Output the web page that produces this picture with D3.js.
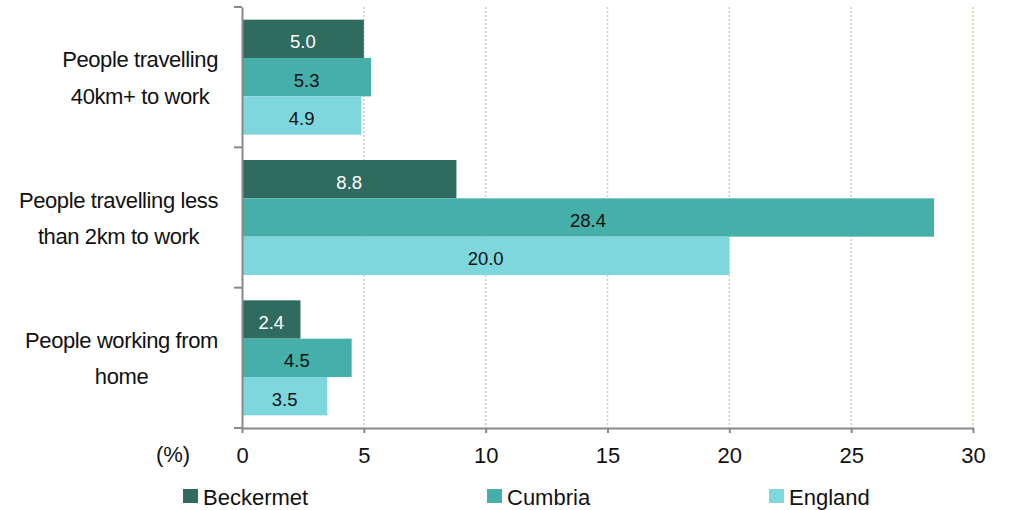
<!DOCTYPE html>
<html><head><meta charset="utf-8">
<script src="https://cdn.jsdelivr.net/npm/d3@7"></script>
<style>
html,body{margin:0;padding:0;background:#fff;}
svg{display:block;font-family:"Liberation Sans",Arial,sans-serif;}
</style></head>
<body>
<svg id="chart" width="1009" height="510"></svg>
<script>
const categories = ["People travelling\n40km+ to work", "People travelling less\nthan 2km to work", "People working from\nhome"];
const seriesNames = ["Beckermet", "Cumbria", "England"];
const beckermet = [5.0, 8.8, 2.4];
const cumbria = [5.3, 28.4, 4.5];
const england = [4.9, 20.0, 3.5];
const xTicks = [0, 5, 10, 15, 20, 25, 30];
const axisUnit = "(%)";

const seriesValues = [beckermet, cumbria, england];
const colors = ["#306b5f", "#47afa9", "#7fd7de"];
const labelColors = ["#ffffff", "#111111", "#111111"];

const svg = d3.select("#chart");
const x = d3.scaleLinear().domain([0, 30]).range([242, 973]);
const y = d3.scaleBand().domain(categories).range([7, 428]).paddingInner(0).paddingOuter(0);
const ys = d3.scaleBand().domain(seriesNames).range([0, y.bandwidth()]).paddingInner(0).paddingOuter(0.33);

// gridlines
svg.append("g").selectAll("line").data(xTicks.filter(d => d > 0)).join("line")
  .attr("x1", d => x(d)).attr("x2", d => x(d))
  .attr("y1", 7).attr("y2", 428)
  .attr("stroke", "#d5cdaa").attr("stroke-width", 1.5).attr("stroke-dasharray", "2,2");

// bars
const rows = [];
categories.forEach((c, i) => seriesNames.forEach((s, j) => rows.push({c, s, j, v: seriesValues[j][i]})));
const g = svg.append("g");
g.selectAll("rect").data(rows).join("rect")
  .attr("x", x(0))
  .attr("y", d => y(d.c) + ys(d.s))
  .attr("width", d => x(d.v) - x(0))
  .attr("height", ys.bandwidth())
  .attr("fill", d => colors[d.j]);
g.selectAll("text").data(rows).join("text")
  .attr("x", d => (x(0) + x(d.v)) / 2)
  .attr("y", d => y(d.c) + ys(d.s) + ys.bandwidth() / 2 + 9.5)
  .attr("text-anchor", "middle")
  .attr("font-size", 18.5)
  .attr("fill", d => labelColors[d.j])
  .text(d => d.v.toFixed(1));

// axes
const axisColor = "#898989";
const xAxis = svg.append("g").attr("transform", "translate(0,428)")
  .call(d3.axisBottom(x).tickValues(xTicks).tickSize(5).tickPadding(14).tickSizeOuter(0));
xAxis.select(".domain").attr("stroke", axisColor).attr("stroke-width", 2);
xAxis.selectAll(".tick line").attr("stroke", axisColor).attr("stroke-width", 2);
xAxis.selectAll(".tick text").attr("font-size", 22).attr("fill", "#111").attr("font-family", "Liberation Sans, Arial, sans-serif");

const yAxis = svg.append("g").attr("transform", "translate(242,0)")
  .call(d3.axisLeft(y).tickValues([]).tickSizeOuter(0));
yAxis.select(".domain").attr("stroke", axisColor).attr("stroke-width", 2);
// category boundary ticks
const bounds = categories.map(c => y(c)).concat([y(categories[categories.length - 1]) + y.bandwidth()]);
svg.append("g").selectAll("line").data(bounds).join("line")
  .attr("x1", 234).attr("x2", 242).attr("y1", d => d).attr("y2", d => d)
  .attr("stroke", axisColor).attr("stroke-width", 2);

// category labels
categories.forEach(c => {
  const lines = c.split("\n");
  const cy = y(c) + y.bandwidth() / 2;
  const tg = svg.append("g");
  const ts = lines.map((ln, k) => tg.append("text")
    .attr("font-size", 22).attr("letter-spacing", "-0.4px").attr("fill", "#111").attr("text-anchor", "middle")
    .attr("y", cy - 10 + k * 36.5).text(ln));
  const maxW = d3.max(ts, t => t.node().getComputedTextLength());
  ts.forEach(t => t.attr("x", 218 - maxW / 2));
});

// unit label
svg.append("text").attr("x", 173).attr("y", 462).attr("text-anchor", "middle")
  .attr("font-size", 22).attr("fill", "#111").text(axisUnit);

// legend
const legendX = [183, 487, 769];
const lg = svg.append("g").selectAll("g").data(seriesNames).join("g")
  .attr("transform", (d, i) => `translate(${legendX[i]},0)`);
lg.append("rect").attr("x", 0).attr("y", 489).attr("width", 15).attr("height", 14)
  .attr("fill", (d, i) => colors[i]);
lg.append("text").attr("x", 20).attr("y", 505).attr("font-size", 22).attr("fill", "#111").text(d => d);
</script>
</body></html>
